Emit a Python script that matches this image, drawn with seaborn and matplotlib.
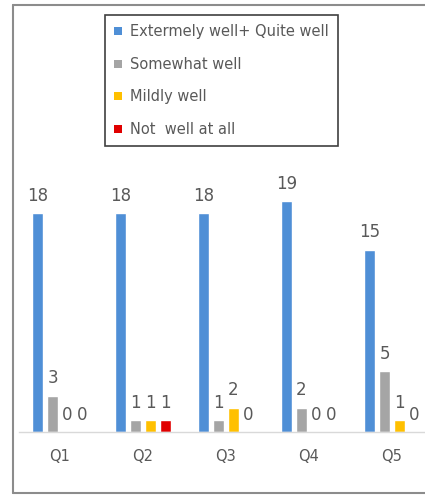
import matplotlib
matplotlib.use("Agg")
import matplotlib.pyplot as plt
import seaborn as sns
import pandas as pd
from matplotlib.patches import Patch
from matplotlib.lines import Line2D

categories = ["Q1", "Q2", "Q3", "Q4", "Q5"]
series_names = ["Extermely well+ Quite well", "Somewhat well", "Mildly well", "Not  well at all"]
extremely_quite = [18, 18, 18, 19, 15]
somewhat = [3, 1, 1, 2, 5]
mildly = [0, 1, 2, 0, 1]
not_at_all = [0, 1, 0, 0, 0]
colors = ["#4F8FD6", "#A5A5A5", "#FFC000", "#E00000"]

values = [extremely_quite, somewhat, mildly, not_at_all]
rows = []
for name, vals in zip(series_names, values):
    for c, v in zip(categories, vals):
        rows.append({"Question": c, "Series": name, "Value": v})
df = pd.DataFrame(rows)

sns.set_style("white")
plt.rcParams["font.family"] = ["DejaVu Sans"]

W, H = 425, 495
fig = plt.figure(figsize=(W / 100, H / 100), dpi=100)
fig.patch.set_edgecolor("white")
fig.patch.set_linewidth(0)
ax = fig.add_axes([18.5 / W, 63 / H, 415 / W, (20 * 12.15) / H])

sns.barplot(data=df, x="Question", y="Value", hue="Series", order=categories,
            hue_order=series_names, palette=colors, width=0.72, gap=0.27,
            saturation=1, legend=False, ax=ax)

for cont in ax.containers:
    ax.bar_label(cont, fmt="%d", padding=6, fontsize=12, color="#595959")

ax.set_ylim(0, 20)
ax.set_xlim(-0.5, 4.5)
ax.set_xlabel("")
ax.set_ylabel("")
ax.set_yticks([])
ax.tick_params(axis="x", length=0, pad=12, labelsize=10.5, labelcolor="#595959")
for s in ["top", "right", "left"]:
    ax.spines[s].set_visible(False)
ax.spines["bottom"].set_color("#D9D9D9")
ax.spines["bottom"].set_linewidth(1)
ax.patch.set_alpha(0)

handles = [Patch(facecolor=c, edgecolor="none") for c in colors]
leg = fig.legend(handles, series_names, loc="upper left",
                 bbox_to_anchor=(105 / W, 1 - 15 / H), bbox_transform=fig.transFigure,
                 fontsize=10.5, labelcolor="#595959", frameon=True, fancybox=False,
                 shadow=False, framealpha=1, edgecolor="#404040",
                 handlelength=0.5, handleheight=0.5, handletextpad=0.55,
                 labelspacing=1.2, borderpad=0.65, borderaxespad=0)
leg.get_frame().set_linewidth(1.2)

x0 = 13 / W
y_top = 1 - 5 / H
y_bot = 2 / H
frame_kw = dict(transform=fig.transFigure, color="#8C8C8C", linewidth=1.5)
fig.add_artist(Line2D([x0, x0], [y_bot, y_top], **frame_kw))
fig.add_artist(Line2D([x0, 1.05], [y_top, y_top], **frame_kw))
fig.add_artist(Line2D([x0, 1.05], [y_bot, y_bot], **frame_kw))

fig.savefig("out.png", dpi=100)
